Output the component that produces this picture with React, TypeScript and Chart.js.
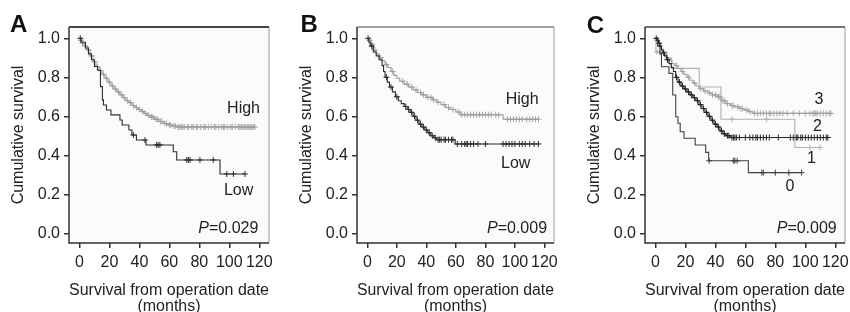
import React, { useEffect, useRef } from 'react';
import { Chart, registerables } from 'chart.js';

Chart.register(...registerables);

const FONT = '"Liberation Sans", Arial, Helvetica, sans-serif';

const xTickValues = [0, 20, 40, 60, 80, 100, 120];
const yTickValues = [0, 0.2, 0.4, 0.6, 0.8, 1.0];

type Step = [number, number];

// ---------- Panel A ----------
const aHighSteps: Step[] = [
  [0, 1.0], [1, 0.99], [2, 0.975], [3, 0.96], [5, 0.94], [7, 0.91], [9, 0.88], [11, 0.855],
  [13, 0.835], [15, 0.815], [17, 0.795], [19, 0.775], [21, 0.755], [23, 0.74], [25, 0.725],
  [27, 0.71], [29, 0.695], [31, 0.68], [33, 0.67], [35, 0.655], [37, 0.645], [39, 0.635],
  [41, 0.625], [43, 0.615], [45, 0.605], [47, 0.597], [50, 0.585], [53, 0.573], [56, 0.563],
  [59, 0.555], [62, 0.55], [65, 0.545],
];
const aHighCensors = [
  1, 2, 4, 6, 8, 10, 12, 14, 16, 18, 20, 22, 24, 26, 28, 30, 32, 34, 36, 38, 40, 42, 44, 46,
  48, 49, 51, 52, 54, 55, 57, 58, 60, 61, 63, 64, 66, 67, 68, 69, 70, 72, 73, 75, 76, 78, 79,
  81, 83, 84, 86, 88, 90, 91, 93, 95, 96, 97, 99, 101, 102, 104, 106, 107, 108, 109, 110, 111,
  112, 113, 114, 115, 116, 117,
];
const aLowSteps: Step[] = [
  [0, 1.0], [1, 0.98], [4, 0.95], [6, 0.92], [8, 0.89], [10, 0.855], [12, 0.836], [14, 0.752],
  [15.3, 0.684], [16, 0.658], [18, 0.632], [21, 0.607], [27, 0.581], [28.5, 0.555], [33, 0.53],
  [35, 0.504], [38, 0.478], [44.4, 0.453], [62.6, 0.418], [64.9, 0.376], [93.8, 0.304],
];
const aLowCensors = [0.5, 36, 43.7, 51.5, 52.5, 53.7, 71.6, 72.7, 73.8, 80.4, 89.3, 98.3, 102.7, 110.5];
const aLabels: [string, number, number][] = [['High', 120.5, 0.615], ['Low', 116, 0.196]];
const aPValue: [string, number, number] = ['0.029', 119.4, 0.003];

// ---------- Panel B ----------
const bHighSteps: Step[] = [
  [0, 1.0], [1, 0.99], [2.5, 0.97], [4, 0.94], [6, 0.92], [8, 0.9], [10, 0.885], [12, 0.865],
  [14, 0.85], [16, 0.83], [18, 0.81], [20, 0.795], [22, 0.78], [25, 0.765], [28, 0.75],
  [31, 0.735], [34, 0.722], [37, 0.71], [40, 0.697], [44, 0.685], [47, 0.672], [50, 0.66],
  [53, 0.645], [56, 0.635], [60, 0.622], [63, 0.608], [92, 0.585],
];
const bHighCensors = [
  1.5, 3, 5, 9, 13, 17, 24, 27, 30, 33, 36, 38, 41, 43, 45, 48, 52, 55, 58, 62, 64, 66, 68, 70,
  72, 74, 76, 78, 80, 82, 84, 87, 89, 95, 97, 99, 101, 103, 105, 108, 110, 112, 114, 116,
];
const bLowSteps: Step[] = [
  [0, 1.0], [1, 0.98], [2, 0.96], [4, 0.93], [6, 0.91], [8, 0.89], [10, 0.86], [11, 0.83],
  [12, 0.8], [13.5, 0.775], [15, 0.75], [17, 0.725], [19, 0.7], [21, 0.68], [23, 0.665],
  [25, 0.65], [27, 0.635], [29, 0.62], [31, 0.6], [33, 0.58], [35, 0.56], [37, 0.545],
  [39, 0.53], [41, 0.515], [43, 0.5], [45, 0.49], [47, 0.48], [59.5, 0.458],
];
const bLowCensors = [
  0.5, 3, 13, 16, 20, 26, 28, 30, 32, 34, 36, 38, 40, 42, 44, 46, 48, 49, 50, 52, 53, 55, 57,
  58, 61, 64, 66, 67, 68, 70, 72, 75, 80, 92, 94, 96, 98, 100, 103, 105, 107, 110, 113, 116,
];
const bLabels: [string, number, number][] = [['High', 116.1, 0.663], ['Low', 110.5, 0.336]];
const bPValue: [string, number, number] = ['0.009', 121.8, 0.003];

// ---------- Panel C ----------
const c0Steps: Step[] = [
  [0, 1.0], [1.5, 0.96], [3, 0.92], [4, 0.854], [9, 0.82], [11.5, 0.709], [13.5, 0.598],
  [15, 0.564], [16.5, 0.521], [19, 0.487], [26.5, 0.453], [33.5, 0.415], [35.5, 0.372], [62, 0.311],
];
const c0Censors = [35.8, 52, 53, 54.5, 71, 72, 80, 89, 97.5];
const c1Steps: Step[] = [
  [0, 1.0], [0.3, 0.93], [7.5, 0.897], [10.8, 0.846], [29.2, 0.75], [43.7, 0.585], [93, 0.44],
];
const c1Censors = [1, 3, 51, 74.2, 103, 109.8];
const c2Steps: Step[] = [
  [0, 1.0], [1, 0.99], [2, 0.975], [3, 0.96], [4, 0.94], [5, 0.925], [6, 0.91], [7.5, 0.89],
  [9, 0.87], [10.5, 0.85], [12, 0.83], [13.5, 0.8], [15, 0.775], [17, 0.755], [19, 0.74],
  [21, 0.725], [23, 0.71], [25, 0.695], [27, 0.68], [29, 0.66], [31, 0.64], [33, 0.62],
  [35, 0.6], [37, 0.58], [39, 0.56], [41, 0.545], [43, 0.525], [45, 0.51], [47, 0.5], [50, 0.491],
];
const c2Censors = [
  0.5, 2.5, 5.5, 8, 14, 16, 18, 20, 22, 24, 26, 28, 30, 32, 34, 36, 38, 40, 42, 44, 46, 48, 49,
  51, 52, 53, 54, 56, 60, 63, 65, 67, 68, 70, 72, 74, 76, 82, 90, 92, 94, 95, 97, 98, 100, 102,
  104, 106, 108, 110, 112, 114, 115,
];
const c3Steps: Step[] = [
  [0, 1.0], [1, 0.99], [2, 0.975], [3, 0.96], [4, 0.945], [5, 0.93], [6, 0.915], [7.5, 0.9],
  [9, 0.885], [11, 0.87], [13, 0.86], [15, 0.845], [17, 0.83], [19, 0.815], [21, 0.8],
  [23, 0.785], [25, 0.77], [27, 0.755], [29, 0.742], [32, 0.73], [35, 0.72], [38, 0.71],
  [41, 0.7], [44, 0.68], [47, 0.665], [50, 0.655], [53, 0.648], [56, 0.64], [59, 0.632],
  [62, 0.624], [65, 0.615],
];
const c3Censors = [
  1, 3, 8, 14, 18, 22, 26, 30, 33, 36, 38, 40, 42, 43, 45, 46, 48, 51, 52, 55, 57, 58, 61, 63,
  66, 68, 70, 72, 74, 76, 77, 79, 81, 83, 85, 88, 92, 96, 100, 103, 105, 106, 107, 108, 110,
  112, 114, 116, 117,
];
const cLabels: [string, number, number][] = [
  ['3', 112, 0.662], ['2', 111, 0.526], ['1', 107, 0.359], ['0', 92.8, 0.218],
];
const cPValue: [string, number, number] = ['0.009', 121, 0.003];

// ---------- helpers ----------
function valueAt(steps: Step[], t: number): number {
  let v = steps[0][1];
  for (const [st, sv] of steps) {
    if (st <= t) v = sv;
    else break;
  }
  return v;
}

function curvePoints(steps: Step[], censors: number[]) {
  const pts = steps.map(([x, y]) => ({ x, y }));
  const end = Math.max(steps[steps.length - 1][0], ...censors);
  pts.push({ x: end, y: steps[steps.length - 1][1] });
  return pts;
}

function censorPoints(steps: Step[], censors: number[]) {
  return censors.map((t) => ({ x: t, y: valueAt(steps, t) }));
}

type Series = { steps: Step[]; censors: number[]; line: string; mark: string };
type PanelSpec = {
  letter: string;
  left: number;
  width: number;
  padRight: number;
  topWidth: number;
  letterX: number;
  letterY: number;
  series: Series[];
  labels: [string, number, number][];
  pValue: [string, number, number];
};

const PANELS: PanelSpec[] = [
  {
    letter: 'A', left: 0, width: 283, padRight: 14, topWidth: 2, letterX: 10, letterY: 32,
    series: [
      { steps: aLowSteps, censors: aLowCensors, line: '#2e2e2e', mark: '#2e2e2e' },
      { steps: aHighSteps, censors: aHighCensors, line: '#9a9a9a', mark: '#a6a6a6' },
    ],
    labels: aLabels, pValue: aPValue,
  },
  {
    letter: 'B', left: 287.5, width: 280, padRight: 14, topWidth: 1.2, letterX: 12.5, letterY: 32,
    series: [
      { steps: bLowSteps, censors: bLowCensors, line: '#2e2e2e', mark: '#2e2e2e' },
      { steps: bHighSteps, censors: bHighCensors, line: '#9a9a9a', mark: '#a6a6a6' },
    ],
    labels: bLabels, pValue: bPValue,
  },
  {
    letter: 'C', left: 576, width: 274, padRight: 5, topWidth: 1.5, letterX: 10.7, letterY: 33,
    series: [
      { steps: c2Steps, censors: c2Censors, line: '#222222', mark: '#222222' },
      { steps: c0Steps, censors: c0Censors, line: '#404040', mark: '#404040' },
      { steps: c3Steps, censors: c3Censors, line: '#a0a0a0', mark: '#a8a8a8' },
      { steps: c1Steps, censors: c1Censors, line: '#b0b0b0', mark: '#b0b0b0' },
    ],
    labels: cLabels, pValue: cPValue,
  },
];

const framePlugin = {
  id: 'kmFrame',
  beforeDatasetsDraw(chart: any) {
    const { ctx, chartArea } = chart;
    const { left, right, top, bottom } = chartArea;
    ctx.save();
    ctx.fillStyle = '#fbfbfb';
    ctx.fillRect(left, top, right - left, bottom - top);
    ctx.restore();
  },
  afterDatasetsDraw(chart: any, _args: any, opts: any) {
    const { ctx, chartArea, scales } = chart;
    const { left, right, top, bottom } = chartArea;
    ctx.save();
    // right border
    ctx.strokeStyle = '#9a9a9a';
    ctx.lineWidth = 1;
    ctx.beginPath();
    ctx.moveTo(right, top);
    ctx.lineTo(right, bottom);
    ctx.stroke();
    // left + bottom
    ctx.strokeStyle = '#333';
    ctx.lineWidth = 1.5;
    ctx.beginPath();
    ctx.moveTo(left, top);
    ctx.lineTo(left, bottom);
    ctx.lineTo(right, bottom);
    ctx.stroke();
    // top
    ctx.strokeStyle = '#444';
    ctx.lineWidth = opts.topWidth || 1.5;
    ctx.beginPath();
    ctx.moveTo(left, top);
    ctx.lineTo(right, top);
    ctx.stroke();

    // annotations
    const x = scales.x;
    const y = scales.y;
    ctx.fillStyle = '#222';
    ctx.textAlign = 'right';
    ctx.textBaseline = 'alphabetic';
    ctx.font = `16px ${FONT}`;
    for (const [txt, t, s] of opts.labels as [string, number, number][]) {
      ctx.fillText(txt, x.getPixelForValue(t), y.getPixelForValue(s));
    }
    const [pv, pt, ps] = opts.pValue as [string, number, number];
    const px = x.getPixelForValue(pt);
    const py = y.getPixelForValue(ps);
    const rest = '=' + pv;
    ctx.fillText(rest, px, py);
    const w = ctx.measureText(rest).width;
    ctx.font = `italic 16px ${FONT}`;
    ctx.fillText('P', px - w, py);

    // panel letter
    ctx.textAlign = 'left';
    ctx.font = `bold 24px ${FONT}`;
    ctx.fillStyle = '#111';
    ctx.fillText(opts.letter, opts.letterX, opts.letterY);
    ctx.restore();
  },
};

function Panel({ spec }: { spec: PanelSpec }) {
  const ref = useRef<HTMLCanvasElement>(null);
  useEffect(() => {
    const datasets: any[] = [];
    for (const s of spec.series) {
      datasets.push({
        data: curvePoints(s.steps, s.censors),
        stepped: true,
        borderColor: s.line,
        borderWidth: 1.1,
        pointRadius: 0,
        fill: false,
        tension: 0,
      });
      datasets.push({
        data: censorPoints(s.steps, s.censors),
        showLine: false,
        pointStyle: 'cross',
        pointRadius: 3,
        pointBorderWidth: 1,
        pointBorderColor: s.mark,
        pointBackgroundColor: s.mark,
      });
    }
    const tickFont = { family: FONT, size: 16 };
    const chart = new Chart(ref.current as HTMLCanvasElement, {
      type: 'line',
      data: { datasets },
      plugins: [framePlugin],
      options: {
        animation: false,
        responsive: false,
        maintainAspectRatio: false,
        layout: { padding: { left: 0, right: spec.padRight, top: 27, bottom: 0 } },
        plugins: {
          legend: { display: false },
          tooltip: { enabled: false },
          kmFrame: {
            topWidth: spec.topWidth,
            labels: spec.labels,
            pValue: spec.pValue,
            letter: spec.letter,
            letterX: spec.letterX,
            letterY: spec.letterY,
          },
        } as any,
        scales: {
          x: {
            type: 'linear',
            min: -7,
            max: 126.5,
            afterBuildTicks: (scale: any) => {
              scale.ticks = xTickValues.map((v) => ({ value: v }));
            },
            afterFit: (scale: any) => {
              scale.height = 69;
              scale.paddingLeft = 0;
              scale.paddingRight = 0;
            },
            grid: { display: true, drawOnChartArea: false, drawTicks: true, tickLength: 5, color: '#333', lineWidth: 1.5 },
            border: { display: false },
            ticks: { color: '#222', font: tickFont, padding: 5, maxRotation: 0, autoSkip: false },
            title: {
              display: true,
              text: ['Survival from operation date', '(months)'],
              color: '#222',
              font: { family: FONT, size: 16, lineHeight: 1.0 },
              padding: { top: 0, bottom: -3 },
            },
          },
          y: {
            type: 'linear',
            min: -0.05,
            max: 1.058,
            afterBuildTicks: (scale: any) => {
              scale.ticks = yTickValues.map((v) => ({ value: v }));
            },
            afterFit: (scale: any) => {
              scale.width = 69;
              scale.paddingTop = 0;
              scale.paddingBottom = 0;
            },
            grid: { display: true, drawOnChartArea: false, drawTicks: true, tickLength: 5, color: '#333', lineWidth: 1.5 },
            border: { display: false },
            ticks: {
              color: '#222',
              font: tickFont,
              padding: 4,
              autoSkip: false,
              callback: (v: any) => Number(v).toFixed(1),
            },
            title: {
              display: true,
              text: 'Cumulative survival',
              color: '#222',
              font: { family: FONT, size: 16 },
              padding: { top: 9, bottom: 0 },
            },
          },
        },
      } as any,
    });
    return () => chart.destroy();
  }, [spec]);
  return (
    <canvas
      ref={ref}
      width={spec.width}
      height={312}
      style={{ position: 'absolute', left: spec.left, top: 0, width: spec.width, height: 312 }}
    />
  );
}

export default function App() {
  return (
    <div style={{ position: 'absolute', left: 0, top: 0, width: 850, height: 312, background: '#fff', overflow: 'hidden' }}>
      {PANELS.map((p) => (
        <Panel key={p.letter} spec={p} />
      ))}
    </div>
  );
}
